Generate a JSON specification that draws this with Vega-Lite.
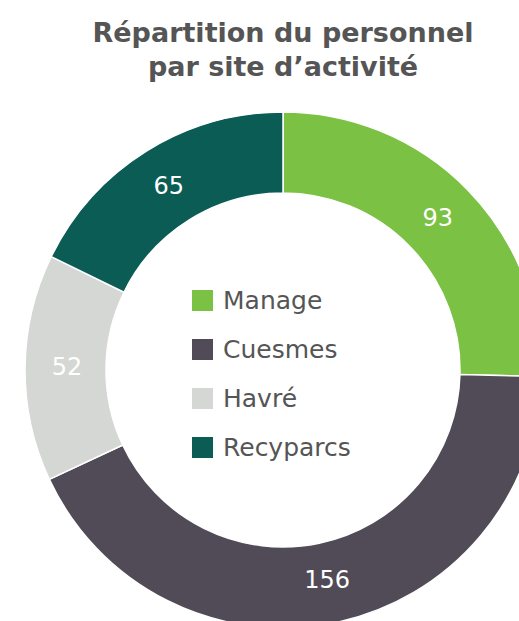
{
  "$schema": "https://vega.github.io/schema/vega-lite/v6.json",
  "autosize": "none",
  "width": 472,
  "height": 502,
  "padding": {"left": 47, "top": 119, "right": 0, "bottom": 0},
  "background": "white",
  "title": {
    "text": ["Répartition du personnel", "par site d’activité"],
    "anchor": "middle",
    "frame": "group",
    "font": "DejaVu Sans",
    "fontSize": 27,
    "fontWeight": "bold",
    "color": "#555555",
    "lineHeight": 34,
    "offset": 27
  },
  "data": {
    "values": [
      {"site": "Manage", "n": 93, "o": 1},
      {"site": "Cuesmes", "n": 156, "o": 2},
      {"site": "Havré", "n": 52, "o": 3},
      {"site": "Recyparcs", "n": 65, "o": 4}
    ]
  },
  "encoding": {
    "theta": {"field": "n", "type": "quantitative", "stack": true},
    "order": {"field": "o", "type": "quantitative"}
  },
  "layer": [
    {
      "mark": {"type": "arc", "radius": 258, "radius2": 177, "stroke": "white", "strokeWidth": 1.5},
      "encoding": {
        "color": {
          "field": "site",
          "type": "nominal",
          "sort": ["Manage", "Cuesmes", "Havré", "Recyparcs"],
          "scale": {
            "domain": ["Manage", "Cuesmes", "Havré", "Recyparcs"],
            "range": ["#7BC143", "#514B57", "#D5D7D4", "#0A5C55"]
          },
          "legend": {
            "title": null,
            "orient": "none",
            "legendX": 143,
            "legendY": 169,
            "symbolType": "square",
            "symbolSize": 441,
            "symbolStrokeWidth": 0,
            "labelFont": "DejaVu Sans",
            "labelFontSize": 25,
            "labelColor": "#555555",
            "labelOffset": 8,
            "rowPadding": 23,
            "symbolOpacity": 1
          }
        }
      }
    },
    {
      "mark": {"type": "text", "radius": 216, "font": "DejaVu Sans", "fontSize": 24, "color": "white"},
      "encoding": {
        "text": {"field": "n", "type": "quantitative"}
      }
    }
  ]
}
